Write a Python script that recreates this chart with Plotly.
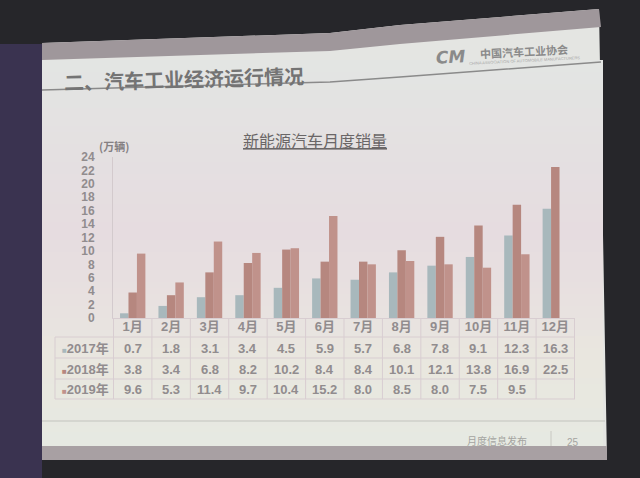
import plotly.graph_objects as go

# ---------------- data ----------------
months = ["1月", "2月", "3月", "4月", "5月", "6月", "7月", "8月", "9月", "10月", "11月", "12月"]
years = ["2017年", "2018年", "2019年"]
sales_2017 = [0.7, 1.8, 3.1, 3.4, 4.5, 5.9, 5.7, 6.8, 7.8, 9.1, 12.3, 16.3]
sales_2018 = [3.8, 3.4, 6.8, 8.2, 10.2, 8.4, 8.4, 10.1, 12.1, 13.8, 16.9, 22.5]
sales_2019 = [9.6, 5.3, 11.4, 9.7, 10.4, 15.2, 8.0, 8.5, 8.0, 7.5, 9.5, None]
y_ticks = [0, 2, 4, 6, 8, 10, 12, 14, 16, 18, 20, 22, 24]

series = [sales_2017, sales_2018, sales_2019]
colors = ["#a8b8bc", "#b6877f", "#c0928b"]

W, H = 640, 478
PL, PR, PT, PB = 113, 575, 157, 318
CJK = "Noto Sans CJK SC"
NUM = "Liberation Sans, Noto Sans CJK SC"


def fx(x):
    return (x - PL) / (PR - PL)


def fy(y):
    return (PB - y) / (PB - PT)


def path(pts, close=True):
    s = "M " + " L ".join(f"{fx(x):.5f},{fy(y):.5f}" for x, y in pts)
    return s + (" Z" if close else "")


fig = go.Figure()
for name, vals, col in zip(years, series, colors):
    fig.add_trace(go.Bar(x=months, y=vals, name=name, marker=dict(color=col, line=dict(width=0))))

shapes = []
# left purple strip
shapes.append(dict(type="rect", xref="paper", yref="paper", x0=fx(0), x1=fx(42), y0=fy(478), y1=fy(44),
                   fillcolor="#3a3350", line=dict(width=0), layer="below"))
# slide body
slide_pts = [(42, 43), (330, 33), (400, 25), (599, 9), (607, 460), (42, 458)]
shapes.append(dict(type="path", xref="paper", yref="paper", path=path(slide_pts),
                   fillcolor="#e4e5e2", line=dict(width=0), layer="below"))


# gradient bands on slide body
def hx(c):
    return [int(c[i:i + 2], 16) for i in (1, 3, 5)]


stops = [(60, "#e3e5e3"), (150, "#e4e0e1"), (230, "#e6dce0"), (300, "#e8e1e0"),
         (360, "#e9e7df"), (446, "#e6e9e2")]
y = 60
step = 6
while y < 446:
    for (ya, ca), (yb, cb) in zip(stops[:-1], stops[1:]):
        if ya <= y <= yb:
            t = (y - ya) / (yb - ya)
            a, b = hx(ca), hx(cb)
            c = "#" + "".join(f"{round(a[i] + (b[i] - a[i]) * t):02x}" for i in range(3))
            break
    shapes.append(dict(type="rect", xref="paper", yref="paper", x0=fx(42), x1=fx(603),
                       y0=fy(min(y + step + 1, 446)), y1=fy(y), fillcolor=c, line=dict(width=0), layer="below"))
    y += step

# header band
hb = [(42, 43), (330, 33), (400, 25), (599, 9), (601, 27), (400, 44), (330, 51), (42, 60)]
shapes.append(dict(type="path", xref="paper", yref="paper", path=path(hb),
                   fillcolor="#9f979b", line=dict(width=0), layer="below"))
# title underline
shapes.append(dict(type="path", xref="paper", yref="paper",
                   path=path([(42, 90), (330, 82), (400, 77), (601, 62)], close=False),
                   line=dict(color="#8a8a8a", width=1.5), layer="below"))
# footer line, separator, bottom band
shapes.append(dict(type="line", xref="paper", yref="paper", x0=fx(42), x1=fx(605), y0=fy(421), y1=fy(421),
                   line=dict(color="#c2c3bd", width=1), layer="below"))
shapes.append(dict(type="line", xref="paper", yref="paper", x0=fx(551), x1=fx(551), y0=fy(431), y1=fy(452),
                   line=dict(color="#c8c8c2", width=1), layer="below"))
shapes.append(dict(type="rect", xref="paper", yref="paper", x0=fx(42), x1=fx(607), y0=fy(460), y1=fy(446),
                   fillcolor="#a8a0a3", line=dict(width=0), layer="below"))

# table grid
grid = "#d8cdd1"
row_edges = [337, 358, 379, 399]
for ry in row_edges:
    shapes.append(dict(type="line", xref="paper", yref="paper", x0=fx(55), x1=1, y0=fy(ry), y1=fy(ry),
                       line=dict(color=grid, width=1)))
for k in range(len(months) + 1):
    shapes.append(dict(type="line", xref="x", yref="paper", x0=k - 0.5, x1=k - 0.5, y0=fy(399), y1=0,
                       line=dict(color=grid, width=1)))
shapes.append(dict(type="line", xref="paper", yref="paper", x0=fx(55), x1=fx(55), y0=fy(399), y1=fy(337),
                   line=dict(color=grid, width=1)))

ann = []
txt_col = "#918c8e"
# slide title
ann.append(dict(text="<b>二、汽车工业经济运行情况</b>", xref="paper", yref="paper", x=fx(62), y=fy(78),
                xanchor="left", yanchor="middle", showarrow=False, textangle=-1.6,
                font=dict(family=CJK, size=20, color="#747474")))
# logo
ann.append(dict(text="<b><i>CM</i></b>", xref="paper", yref="paper", x=fx(450), y=fy(57),
                xanchor="center", yanchor="middle", showarrow=False, textangle=-3,
                font=dict(family="DejaVu Sans", size=17, color="#8a8a8a")))
ann.append(dict(text="<b>中国汽车工业协会</b>", xref="paper", yref="paper", x=fx(524), y=fy(51),
                xanchor="center", yanchor="middle", showarrow=False, textangle=-3,
                font=dict(family=CJK, size=11, color="#8a8a8a")))
ann.append(dict(text="CHINA ASSOCIATION OF AUTOMOBILE MANUFACTURERS", xref="paper", yref="paper",
                x=fx(524), y=fy(60), xanchor="center", yanchor="middle", showarrow=False, textangle=-3,
                font=dict(family="Liberation Sans", size=4, color="#a8a8a8")))
# chart title
ann.append(dict(text="<u>新能源汽车月度销量</u>", xref="paper", yref="paper", x=fx(315), y=fy(140),
                xanchor="center", yanchor="middle", showarrow=False,
                font=dict(family=CJK, size=16, color="#6a6667")))
# unit
ann.append(dict(text="<b>(万辆)</b>", xref="paper", yref="paper", x=fx(97), y=fy(146),
                xanchor="left", yanchor="middle", showarrow=False,
                font=dict(family=CJK, size=11, color="#858083")))
# table rows
row_centers = [348, 369, 389]
for name, vals, col, ry in zip(years, series, colors, row_centers):
    ann.append(dict(text=f"<span style='font-size:8px;color:{col}'>■</span><b>{name}</b>", xref="paper",
                    yref="paper", x=fx(111), y=fy(ry), xanchor="right", yanchor="middle", showarrow=False,
                    font=dict(family=NUM, size=13, color=txt_col)))
    for m, v in zip(months, vals):
        if v is None:
            continue
        ann.append(dict(text=f"<b>{v:.1f}</b>", xref="x", yref="paper", x=m, y=fy(ry),
                        xanchor="center", yanchor="middle", showarrow=False,
                        font=dict(family=NUM, size=13, color=txt_col)))
# footer
ann.append(dict(text="月度信息发布", xref="paper", yref="paper", x=fx(497), y=fy(440),
                xanchor="center", yanchor="middle", showarrow=False,
                font=dict(family=CJK, size=10, color="#a4a4a0")))
ann.append(dict(text="25", xref="paper", yref="paper", x=fx(573), y=fy(442),
                xanchor="center", yanchor="middle", showarrow=False,
                font=dict(family="Liberation Sans", size=10, color="#a4a4a0")))

fig.update_layout(
    width=W, height=H, autosize=False,
    margin=dict(l=PL, r=W - PR, t=PT, b=H - PB, pad=0),
    paper_bgcolor="#26262a", plot_bgcolor="rgba(0,0,0,0)",
    barmode="group", bargap=0.34, bargroupgap=0,
    showlegend=False,
    shapes=shapes, annotations=ann,
    xaxis=dict(type="category", showgrid=False, zeroline=False, showline=True, linecolor=grid, linewidth=1,
               ticks="", tickfont=dict(family=NUM, size=13, color=txt_col, weight="bold"),
               ticklabelstandoff=-4),
    yaxis=dict(range=[0, 24], tickvals=y_ticks, showgrid=False, zeroline=False, showline=True,
               linecolor="#d3cacd", linewidth=1, ticks="", ticklabelstandoff=15,
               tickfont=dict(family=NUM, size=12, color=txt_col, weight="bold")),
)

fig.write_html("out.html", config={"displayModeBar": False},
               post_script="document.body.style.margin='0';document.body.style.background='#26262a';")
